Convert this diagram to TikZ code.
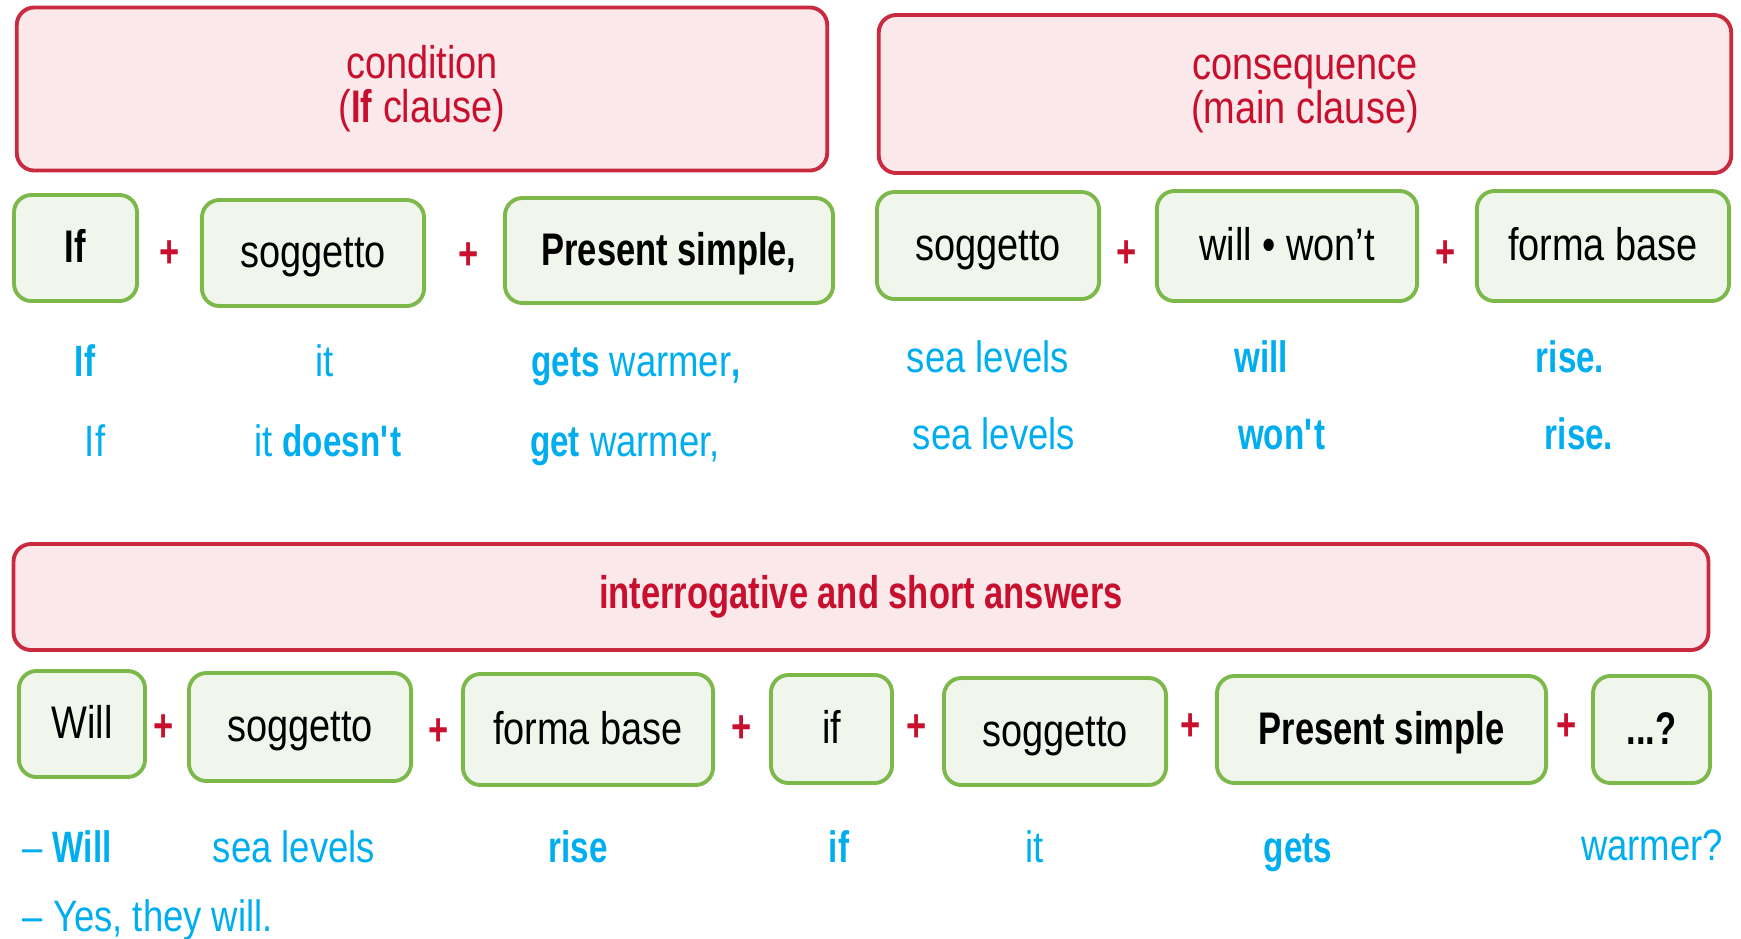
\documentclass[tikz,border=0pt]{standalone}
\usepackage{fontspec}
\setmainfont{Liberation Sans}[FakeStretch=0.83,BoldFeatures={FakeStretch=0.755}]
\definecolor{hdrline}{HTML}{C92A3E}
\definecolor{hdrfill}{HTML}{FAE8EA}
\definecolor{hdrtext}{HTML}{C8102E}
\definecolor{boxline}{HTML}{7CB84A}
\definecolor{boxfill}{HTML}{F1F6ED}
\definecolor{sampleblue}{HTML}{00AEEF}
\begin{document}
\begin{tikzpicture}[x=0.01cm,y=-0.01cm,
    headbox/.style={draw=hdrline,fill=hdrfill,line width=1.1pt,rounded corners=5pt,
        text=hdrtext,align=center,inner sep=0pt,font=\fontsize{13}{12.5}\selectfont},
    wordbox/.style={draw=boxline,fill=boxfill,line width=1.1pt,rounded corners=5pt,
        inner sep=0pt,text height=0.95em,text depth=0.1em,font=\fontsize{13}{15}\selectfont},
    plus/.style={text=hdrtext,font=\bfseries\fontsize{13}{15}\selectfont},
    sample/.style={text=sampleblue,anchor=base,font=\fontsize{12.5}{15}\selectfont}]
                \useasboundingbox (0,0) rectangle (1741,938);

                \node[headbox,minimum width=8.10cm,minimum height=1.63cm] (cond) at (422,89) {condition\\(\textbf{If} clause)};
                \node[headbox,minimum width=8.52cm,minimum height=1.58cm] (cons) at (1305,94) {consequence\\(main clause)};

                \node[wordbox,minimum width=1.23cm,minimum height=1.06cm] (ifbox) at (75.5,248) {\textbf{If}};
                \node[wordbox,minimum width=2.22cm,minimum height=1.06cm] (subjA) at (313,253) {soggetto};
                \node[wordbox,minimum width=3.28cm,minimum height=1.05cm] (presA) at (669,250.5) {\textbf{Present simple,}};
                \node[wordbox,minimum width=2.22cm,minimum height=1.07cm] (subjB) at (988,245.5) {soggetto};
                \node[wordbox,minimum width=2.60cm,minimum height=1.10cm] (willbox) at (1287,246) {will • won’t};
                \node[wordbox,minimum width=2.52cm,minimum height=1.10cm] (baseA) at (1603,246) {forma base};

                \node[plus] (pA) at (170,254) {+};
                \node[plus] (pB) at (469,256) {+};
                \node[plus] (pC) at (1127,254) {+};
                \node[plus] (pD) at (1446,254) {+};

                \node[sample] (exIfA) at (85,376) {\textbf{If}};
                \node[sample] (exItA) at (325,376) {it};
                \node[sample] (exGetsA) at (636,376) {\textbf{gets} warmer\textbf{,}};
                \node[sample] (exSeaA) at (988,372) {sea levels};
                \node[sample] (exWillA) at (1261,372) {\textbf{will}};
                \node[sample] (exRiseA) at (1570,372) {\textbf{rise.}};

                \node[sample] (exIfB) at (95,456) {If};
                \node[sample] (exItB) at (328,456) {it \textbf{doesn\textquotesingle t}};
                \node[sample] (exGetB) at (625,456) {\textbf{get} warmer,};
                \node[sample] (exSeaB) at (994,449) {sea levels};
                \node[sample] (exWontB) at (1282,449) {\textbf{won\textquotesingle t}};
                \node[sample] (exRiseB) at (1579,449) {\textbf{rise.}};

                \node[headbox,minimum width=16.94cm,minimum height=1.06cm] (quest) at (861,597) {\textbf{interrogative and short answers}};

                \node[wordbox,minimum width=1.26cm,minimum height=1.06cm] (willq) at (82,724) {Will};
                \node[wordbox,minimum width=2.22cm,minimum height=1.08cm] (subjC) at (300,727) {soggetto};
                \node[wordbox,minimum width=2.50cm,minimum height=1.11cm] (baseB) at (588,729.5) {forma base};
                \node[wordbox,minimum width=1.21cm,minimum height=1.08cm] (ifq) at (831.5,729) {if};
                \node[wordbox,minimum width=2.22cm,minimum height=1.07cm] (subjD) at (1055,731.5) {soggetto};
                \node[wordbox,minimum width=3.29cm,minimum height=1.07cm] (presB) at (1381.5,729.5) {\textbf{Present simple}};
                \node[wordbox,minimum width=1.17cm,minimum height=1.07cm] (dots) at (1651.5,729.5) {\textbf{...?}};

                \node[plus] (pE) at (164,728) {+};
                \node[plus] (pF) at (439,732) {+};
                \node[plus] (pG) at (742,729) {+};
                \node[plus] (pH) at (917,728) {+};
                \node[plus] (pI) at (1191,727) {+};
                \node[plus] (pJ) at (1567,727) {+};

                \node[sample] (qWill) at (67,862) {– \textbf{Will}};
                \node[sample] (qSea) at (294,862) {sea levels};
                \node[sample] (qRise) at (578,862) {\textbf{rise}};
                \node[sample] (qIf) at (839,862) {\textbf{if}};
                \node[sample] (qIt) at (1035,862) {it};
                \node[sample] (qGets) at (1298,862) {\textbf{gets}};
                \node[sample] (qWarm) at (1652,860) {warmer?};
                \node[sample,anchor=base west,inner xsep=0pt] (answer) at (22,931) {– Yes, they will.};
            \end{tikzpicture}
\end{document}
